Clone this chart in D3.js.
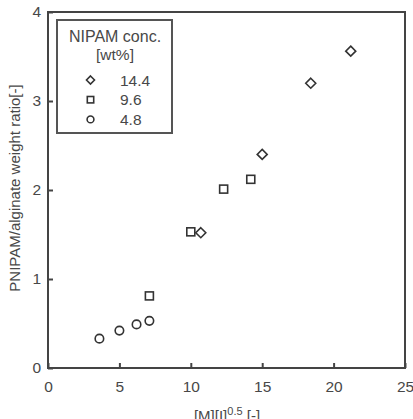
<!DOCTYPE html>
<html>
<head>
<meta charset="utf-8">
<script src="https://cdn.jsdelivr.net/npm/d3@7"></script>
<style>
body { margin: 0; background: #fff; }
text { font-family: "Liberation Sans", Arial, sans-serif; fill: #484848; }
</style>
</head>
<body>
<svg id="chart" width="413" height="419"></svg>
<script>
// data
var xHigh = [10.7, 15.0, 18.4, 21.2];
var yHigh = [1.52, 2.40, 3.20, 3.56];
var xMid = [7.1, 10.0, 12.3, 14.2];
var yMid = [0.81, 1.53, 2.01, 2.12];
var xLow = [3.6, 5.0, 6.2, 7.1];
var yLow = [0.33, 0.42, 0.49, 0.53];
var legendLabels = ["14.4", "9.6", "4.8"];
var xTicks = [0, 5, 10, 15, 20, 25];
var yTicks = [0, 1, 2, 3, 4];

var svg = d3.select("#chart");
var pLeft = 48, pRight = 405, pTop = 12, pBottom = 368;
var fs = 15.5;

var x = d3.scaleLinear().domain([0, 25]).range([pLeft, pRight]);
var y = d3.scaleLinear().domain([0, 4]).range([pBottom, pTop]);

// frame
svg.append("rect")
	.attr("x", pLeft).attr("y", pTop)
	.attr("width", pRight - pLeft).attr("height", pBottom - pTop)
	.attr("fill", "none").attr("stroke", "#444").attr("stroke-width", 2);

// axes with inward ticks
var xAxis = svg.append("g")
	.attr("transform", "translate(0," + pBottom + ")")
	.call(d3.axisBottom(x).tickValues(xTicks).tickSize(-5).tickPadding(13));
var yAxis = svg.append("g")
	.attr("transform", "translate(" + pLeft + ",0)")
	.call(d3.axisLeft(y).tickValues(yTicks).tickSize(-5).tickPadding(7).tickFormat(d3.format("d")));

[xAxis, yAxis].forEach(function(a) {
	a.select(".domain").remove();
	a.selectAll(".tick line").attr("stroke", "#444").attr("stroke-width", 2);
	a.selectAll(".tick text").attr("font-size", fs).style("fill", "#484848");
});

// axis titles
svg.append("text")
	.attr("transform", "translate(19.5,188) rotate(-90)")
	.attr("text-anchor", "middle")
	.attr("font-size", 15)
	.text("PNIPAM/alginate weight ratio[-]");

var xt = svg.append("text")
	.attr("x", 227).attr("y", 421)
	.attr("text-anchor", "middle")
	.attr("font-size", 15);
xt.append("tspan").text("[M][I]");
xt.append("tspan").attr("dy", -6).attr("font-size", 11).text("0.5");
xt.append("tspan").attr("dy", 6).text(" [-]");

// markers
var sym = {
	diamond: function(g, cx, cy, s) {
		g.append("path")
			.attr("d", "M" + cx + "," + (cy - s) + "L" + (cx + s) + "," + cy + "L" + cx + "," + (cy + s) + "L" + (cx - s) + "," + cy + "Z");
	},
	square: function(g, cx, cy, s) {
		var h = s * 0.8;
		g.append("rect").attr("x", cx - h).attr("y", cy - h).attr("width", 2 * h).attr("height", 2 * h);
	},
	circle: function(g, cx, cy, s) {
		g.append("circle").attr("cx", cx).attr("cy", cy).attr("r", s * 0.85);
	}
};

var pts = svg.append("g")
	.attr("fill", "none").attr("stroke", "#333").attr("stroke-width", 1.6);

function drawSeries(xs, ys, kind) {
	xs.forEach(function(v, i) {
		sym[kind](pts, x(v), y(ys[i]), 5);
	});
}
drawSeries(xHigh, yHigh, "diamond");
drawSeries(xMid, yMid, "square");
drawSeries(xLow, yLow, "circle");

// legend
var lg = svg.append("g");
lg.append("rect")
	.attr("x", 57).attr("y", 20).attr("width", 115).attr("height", 113)
	.attr("fill", "#fff").attr("stroke", "#555").attr("stroke-width", 2);
lg.append("text").attr("x", 115).attr("y", 42).attr("text-anchor", "middle")
	.attr("font-size", 16).text("NIPAM conc.");
lg.append("text").attr("x", 115).attr("y", 60).attr("text-anchor", "middle")
	.attr("font-size", fs).text("[wt%]");

var kinds = ["diamond", "square", "circle"];
var lgMarks = lg.append("g")
	.attr("fill", "none").attr("stroke", "#333").attr("stroke-width", 1.6);
legendLabels.forEach(function(l, i) {
	var cy = 80 + i * 19.7;
	sym[kinds[i]](lgMarks, 90.5, cy, 4);
	lg.append("text").attr("x", 120).attr("y", cy + 5.7)
		.attr("font-size", fs).text(l);
});
</script>
</body>
</html>
